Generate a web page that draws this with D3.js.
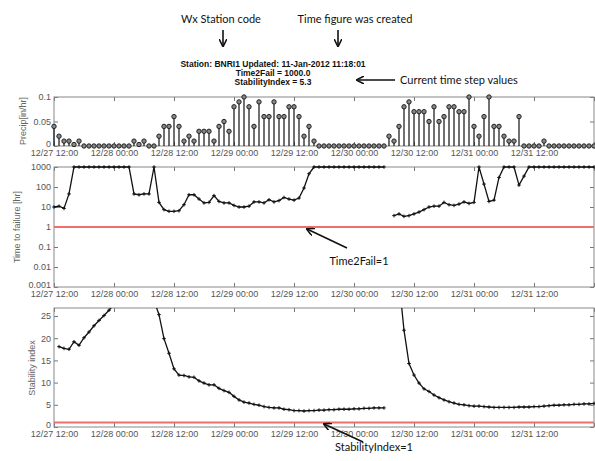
<!DOCTYPE html>
<html>
<head>
<meta charset="utf-8">
<script src="https://cdn.jsdelivr.net/npm/d3@7"></script>
<style>
  body { margin: 0; background: #fff; }
  .tick text { font-family: "Liberation Sans", Arial, sans-serif; font-size: 9px; fill: #555; }
  .tick line { stroke: #777; }
  .note { font-family: Lato, "Open Sans", sans-serif; font-size: 11px; fill: #111; }
  .head { font-family: "Liberation Sans", Arial, sans-serif; font-size: 8.5px; font-weight: bold; fill: #111; }
  .ylab { font-family: "Liberation Sans", Arial, sans-serif; font-size: 9px; fill: #666; }
</style>
</head>
<body>
<div id="chart"></div>
<script>
// hourly records starting 12/27 12:00
const startTime = new Date(2011, 11, 27, 12);
const endTime = new Date(2012, 0, 1, 0);

const precip = [
  0.04, 0.02, 0.01, 0.01, 0.003, 0.01, 0, 0, 0, 0, 0, 0, 0, 0, 0, 0,
  0.01, 0.003, 0.01, 0, 0, 0.02, 0.04, 0.04, 0.06, 0.04, 0.01, 0.02, 0.01, 0.03,
  0.03, 0.03, 0.01, 0.04, 0.05, 0.03, 0.08, 0.09, 0.1, 0.08, 0.04, 0.09, 0.06, 0.06,
  0.09, 0.06, 0.06, 0.08, 0.08, 0.06, 0.02, 0.04, 0.01,
  0, 0, 0, 0, 0, 0, 0, 0, 0, 0, 0, 0, 0, 0,
  0.02, 0.01, 0.04, 0.08, 0.09, 0.07, 0.07, 0.07, 0.05, 0.08, 0.05, 0.06, 0.08, 0.08,
  0.07, 0.07, 0.1, 0.04, 0.02, 0.06, 0.1, 0.04, 0.04, 0.02, 0.01, 0.01, 0.06,
  0, 0, 0, 0, 0.01, 0, 0, 0, 0, 0, 0, 0, 0, 0, 0
];

const timeToFail = [
  10, 11, 8.5, 45, 1000, 1000, 1000, 1000, 1000, 1000, 1000, 1000, 1000, 1000, 1000, 1000,
  45, 41, 45, 45, 1000, 17, 7.4, 6.1, 6.1, 6.5, 13, 41, 41, 25,
  16, 17, 37, 19, 16, 16, 12, 10, 10, 11, 18, 18, 16, 23,
  18, 21, 30, 25, 22, 28, 89, 460, 1000,
  1000, 1000, 1000, 1000, 1000, 1000, 1000, 1000, 1000, 1000, 1000, 1000, 1000, 1000,
  null, 3.7, 4.5, 3.4, 3.7, 4.5, 5.6, 7.4, 10, 11, 11, 17, 13, 12,
  14, 18, 15, 17, 1000, 140, 19, 22, 300, 1000, 1000, 1000, 125,
  350, 1000, 1000, 1000, 1000, 1000, 1000, 1000, 1000, 1000, 1000, 1000, 1000, 1000, 1000
];

const stability = [
  null, 18.1, 17.7, 17.5, 19.2, 18.4, 20.1, 21.4, 22.8, 24.0, 25.1, 26.3, 27.6, null, null, null,
  null, null, null, null, 28.5, 25.3, 19.9, 16.6, 13.1, 11.7, 11.6, 11.3, 11.2, 10.4,
  9.9, 9.5, 9.5, 8.7, 8.2, 7.8, 6.9, 6.1, 5.6, 5.4, 5.1, 4.9, 4.6, 4.4,
  4.3, 4.3, 4.0, 3.9, 3.7, 3.7, 3.6, 3.7, 3.7,
  3.8, 3.8, 3.9, 3.9, 4.0, 4.0, 4.0, 4.1, 4.1, 4.2, 4.2, 4.3, 4.3, 4.3,
  null, null, 33, 21.8, 14.3, 11.7, 9.9, 8.6, 8.0, 7.2, 6.6, 6.1, 5.7, 5.4,
  5.1, 5.0, 4.8, 4.7, 4.7, 4.6, 4.5, 4.4, 4.4, 4.4, 4.4, 4.4, 4.5,
  4.5, 4.5, 4.6, 4.6, 4.7, 4.8, 4.9, 4.9, 5.0, 5.0, 5.1, 5.1, 5.2, 5.2, 5.3
];

const precipTicks = [0, 0.05, 0.1];
const failTicks = [0.001, 0.01, 0.1, 1, 10, 100, 1000];
const stabTicks = [0, 5, 10, 15, 20, 25];

const times = precip.map((d, i) => d3.timeHour.offset(startTime, i));

const width = 595, height = 461;
const left = 54, right = 594;

const svg = d3.select("#chart").append("svg")
  .attr("width", width).attr("height", height);

const x = d3.scaleTime().domain([startTime, endTime]).range([left, right]);
const xTicks = d3.timeHour.every(12).range(startTime, d3.timeHour.offset(endTime, 1));
const fmt = d3.timeFormat("%m/%d %H:%M");

const drawFrame = (y, top, bottom, yTicks, yFmt) => {
  const g = svg.append("g");
  g.append("g").attr("transform", `translate(0,${bottom})`)
    .call(d3.axisBottom(x).tickValues(xTicks).tickSize(-4).tickSizeOuter(0).tickPadding(4)
      .tickFormat(d => +d === +endTime ? "" : fmt(d)));
  g.append("g").attr("transform", `translate(0,${top})`)
    .call(d3.axisTop(x).tickValues(xTicks).tickSize(-4).tickSizeOuter(0).tickFormat(""));
  const ya = g.append("g").attr("transform", `translate(${left},0)`)
    .call(d3.axisLeft(y).tickValues(yTicks).tickSize(-4).tickSizeOuter(0).tickPadding(3).tickFormat(yFmt));
  // lowest label sits a little above the corner, clear of the date labels
  ya.selectAll(".tick text").filter(d => d === yTicks[0]).attr("dy", "0.05em");
  g.append("g").attr("transform", `translate(${right},0)`)
    .call(d3.axisRight(y).tickValues(yTicks).tickSize(-4).tickSizeOuter(0).tickFormat(""));
  g.selectAll(".domain").remove();
  g.append("rect")
    .attr("x", left).attr("y", top)
    .attr("width", right - left).attr("height", bottom - top)
    .attr("fill", "none").attr("stroke", "#888").attr("stroke-width", 1);
  return g;
};

const clip = (id, top, bottom) => {
  svg.append("clipPath").attr("id", id).append("rect")
    .attr("x", left - 3).attr("y", top).attr("width", right - left + 6).attr("height", bottom - top);
};

const plus = "M-1.8,0H1.8M0,-1.8V1.8";

const drawSeries = (vals, y, clipId) => {
  const pts = vals.map((v, i) => ({ t: times[i], v }));
  const g = svg.append("g").attr("clip-path", `url(#${clipId})`);
  g.append("path")
    .datum(pts)
    .attr("fill", "none").attr("stroke", "#111").attr("stroke-width", 1.3)
    .attr("d", d3.line().defined(d => d.v != null).x(d => x(d.t)).y(d => y(d.v)));
  g.selectAll(".mk").data(pts.filter(d => d.v != null)).enter()
    .append("path").attr("class", "mk")
    .attr("transform", d => `translate(${x(d.t)},${y(d.v)})`)
    .attr("d", plus).attr("stroke", "#111").attr("stroke-width", 1);
};

// precipitation panel
const yP = d3.scaleLinear().domain([0, 0.1]).range([146, 97]);
drawFrame(yP, 97, 146, precipTicks, d => d === 0 ? "0" : String(d));
const stems = svg.append("g").selectAll("g").data(precip).enter().append("g");
stems.append("line")
  .attr("x1", (d, i) => x(times[i])).attr("x2", (d, i) => x(times[i]))
  .attr("y1", yP(0)).attr("y2", d => yP(d))
  .attr("stroke", "#111").attr("stroke-width", 1.2);
stems.append("circle")
  .attr("cx", (d, i) => x(times[i])).attr("cy", d => yP(d)).attr("r", 2.2)
  .attr("fill", "#888").attr("stroke", "#222").attr("stroke-width", 1);

// time to failure panel
const yF = d3.scaleLog().domain([0.001, 1000]).range([287, 167]);
drawFrame(yF, 167, 287, failTicks, d => String(d));
svg.append("line").attr("x1", left).attr("x2", right)
  .attr("y1", yF(1)).attr("y2", yF(1))
  .attr("stroke", "#ef6f6a").attr("stroke-width", 2);
clip("clipF", 163, 287);
drawSeries(timeToFail, yF, "clipF");

// stability index panel
const yS = d3.scaleLinear().domain([0, 26.8]).range([427, 308]);
drawFrame(yS, 308, 427, stabTicks, d => String(d));
svg.append("line").attr("x1", left).attr("x2", right)
  .attr("y1", yS(1)).attr("y2", yS(1))
  .attr("stroke", "#ef6f6a").attr("stroke-width", 2);
clip("clipS", 308, 427);
drawSeries(stability, yS, "clipS");

// axis labels
const ylab = (txt, cx, cy) => svg.append("text").attr("class", "ylab")
  .attr("transform", `translate(${cx},${cy}) rotate(-90)`)
  .attr("text-anchor", "middle").attr("dy", "0.35em").text(txt);
ylab("Precip[in/hr]", 23, 121);
ylab("Time to failure [hr]", 17, 227);
ylab("Stability index", 32, 368);

// header text
const head = [
  "Station: BNRI1  Updated: 11-Jan-2012 11:18:01",
  "Time2Fail = 1000.0",
  "StabilityIndex = 5.3"
];
head.forEach((t, i) => svg.append("text").attr("class", "head")
  .attr("x", 273).attr("y", 67 + i * 9).attr("text-anchor", "middle").text(t));

// annotations
const defs = svg.append("defs");
defs.append("marker").attr("id", "ah")
  .attr("viewBox", "0 0 10 10").attr("refX", 9).attr("refY", 5)
  .attr("markerWidth", 5).attr("markerHeight", 5).attr("orient", "auto")
  .append("path").attr("d", "M0,0L10,5L0,10").attr("fill", "none")
  .attr("stroke", "#111").attr("stroke-width", 2);

const arrow = (x1, y1, x2, y2) => svg.append("line")
  .attr("x1", x1).attr("y1", y1).attr("x2", x2).attr("y2", y2)
  .attr("stroke", "#111").attr("stroke-width", 1.6).attr("marker-end", "url(#ah)");

const note = (txt, cx, cy, anchor) => svg.append("text").attr("class", "note")
  .attr("x", cx).attr("y", cy).attr("dy", "0.35em")
  .attr("text-anchor", anchor || "middle").text(txt);

note("Wx Station code", 221, 19);
arrow(223, 30, 223, 46);
note("Time figure was created", 355, 19);
arrow(338, 30, 338, 46);
note("Current time step values", 400, 80, "start");
arrow(395, 80, 357, 80);
note("Time2Fail=1", 359, 261);
arrow(347, 248, 307, 229);
note("StabilityIndex=1", 374, 447);
arrow(363, 442, 324, 424);
</script>
</body>
</html>
